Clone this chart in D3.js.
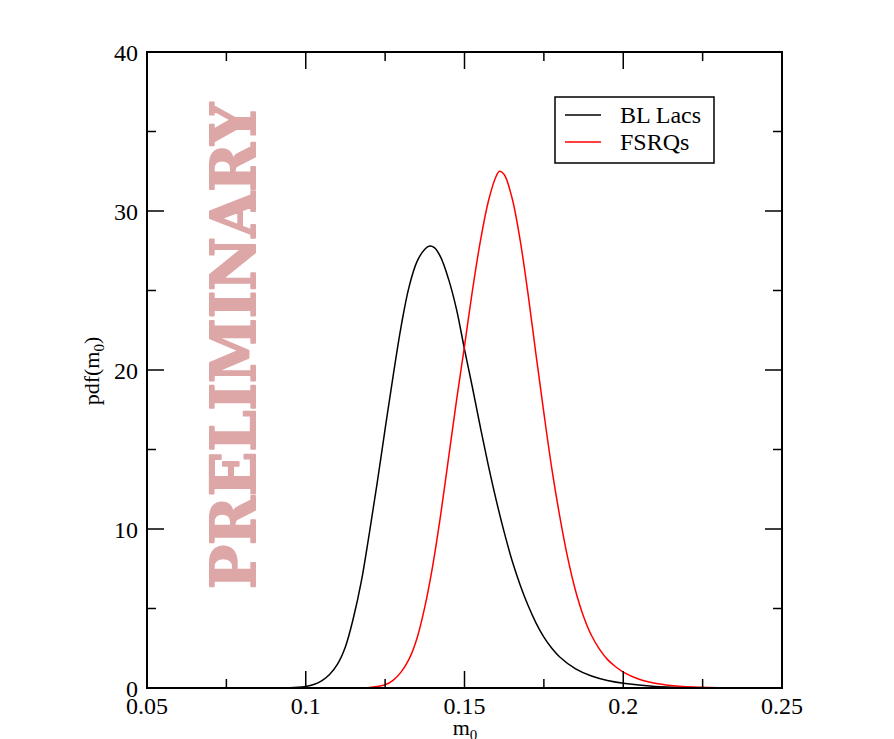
<!DOCTYPE html>
<html>
<head>
<meta charset="utf-8">
<script src="https://cdn.jsdelivr.net/npm/d3@7"></script>
<style>
  body { margin: 0; background: #fff; }
  text { font-family: "Liberation Serif", "Times New Roman", serif; }
</style>
</head>
<body>
<svg id="chart" width="894" height="739"></svg>
<script>
// values
var blM   = [0.05, 0.09, 0.095, 0.0975, 0.10, 0.1025, 0.105, 0.1075, 0.11, 0.1125, 0.115, 0.1175, 0.12, 0.1225, 0.125, 0.1275, 0.13, 0.1325, 0.135, 0.1375, 0.139, 0.1405, 0.1425, 0.145, 0.1475, 0.15, 0.1525, 0.155, 0.1575, 0.16, 0.1625, 0.165, 0.1675, 0.17, 0.1725, 0.175, 0.1775, 0.18, 0.185, 0.19, 0.195, 0.20, 0.21, 0.22, 0.23, 0.25];
var blPdf = [0, 0, 0.01, 0.04, 0.1, 0.22, 0.45, 0.85, 1.5, 2.6, 4.4, 6.7, 9.7, 12.9, 16.3, 19.6, 22.7, 25.2, 26.8, 27.6, 27.8, 27.7, 27.1, 25.7, 23.8, 21.3, 18.9, 16.4, 14.0, 11.8, 9.8, 8.0, 6.5, 5.2, 4.1, 3.2, 2.5, 1.95, 1.2, 0.75, 0.47, 0.3, 0.1, 0.03, 0.01, 0];

var fsM   = [0.05, 0.115, 0.12, 0.1225, 0.125, 0.1275, 0.13, 0.1325, 0.135, 0.1375, 0.14, 0.1425, 0.145, 0.1475, 0.15, 0.1525, 0.155, 0.1575, 0.16, 0.161, 0.1625, 0.165, 0.1675, 0.17, 0.1725, 0.175, 0.1775, 0.18, 0.1825, 0.185, 0.1875, 0.19, 0.1925, 0.195, 0.1975, 0.20, 0.205, 0.21, 0.215, 0.22, 0.23, 0.25];
var fsPdf = [0, 0, 0.03, 0.09, 0.2, 0.48, 1.0, 1.8, 3.1, 5.1, 7.7, 10.9, 14.5, 18.1, 21.5, 25.0, 28.1, 30.6, 32.2, 32.5, 32.3, 30.8, 28.2, 24.8, 21.0, 17.3, 13.8, 10.8, 8.2, 6.1, 4.5, 3.3, 2.45, 1.8, 1.35, 1.0, 0.55, 0.3, 0.16, 0.08, 0.02, 0];

var xTicks = [0.05, 0.1, 0.15, 0.2, 0.25];
var xTickLabels = ["0.05", "0.1", "0.15", "0.2", "0.25"];
var xMinor = [0.075, 0.125, 0.175, 0.225];
var yTicks = [0, 10, 20, 30, 40];
var yMinor = [5, 15, 25, 35];

var seriesNames = ["BL Lacs", "FSRQs"];
var seriesColors = ["#000000", "#ff0000"];

var svg = d3.select("#chart");
var pLeft = 147, pRight = 782, pTop = 52, pBottom = 688;

var x = d3.scaleLinear().domain([0.05, 0.25]).range([pLeft, pRight]);
var y = d3.scaleLinear().domain([0, 40]).range([pBottom, pTop]);

// watermark
svg.append("text")
  .attr("transform", "translate(255,346) rotate(-90)")
  .attr("text-anchor", "middle")
  .style("font-family", "'DejaVu Serif', serif")
  .attr("font-weight", "bold")
  .attr("font-size", 62)
  .attr("textLength", 486)
  .attr("lengthAdjust", "spacingAndGlyphs")
  .attr("fill", "#dea7a7")
  .attr("stroke", "#dea7a7")
  .attr("stroke-width", 2)
  .attr("stroke-linejoin", "round")
  .text("PRELIMINARY");

// curves
var line = d3.line().x(function(d){ return x(d[0]); }).y(function(d){ return y(d[1]); }).curve(d3.curveCatmullRom.alpha(0.5));
var allSeries = [d3.zip(blM, blPdf), d3.zip(fsM, fsPdf)];
allSeries.forEach(function(s, i){
  svg.append("path").datum(s)
    .attr("d", line)
    .attr("fill", "none")
    .attr("stroke", seriesColors[i])
    .attr("stroke-width", 1.5);
});

// frame
svg.append("rect")
  .attr("x", pLeft).attr("y", pTop)
  .attr("width", pRight - pLeft).attr("height", pBottom - pTop)
  .attr("fill", "none").attr("stroke", "#000").attr("stroke-width", 2);

var majorLen = 17, minorLen = 9;
function tickLines(vals, len, isX){
  vals.forEach(function(v){
    if (isX){
      svg.append("line").attr("x1", x(v)).attr("x2", x(v)).attr("y1", pBottom).attr("y2", pBottom - len).attr("stroke", "#000").attr("stroke-width", 1.5);
      svg.append("line").attr("x1", x(v)).attr("x2", x(v)).attr("y1", pTop).attr("y2", pTop + len).attr("stroke", "#000").attr("stroke-width", 1.5);
    } else {
      svg.append("line").attr("y1", y(v)).attr("y2", y(v)).attr("x1", pLeft).attr("x2", pLeft + len).attr("stroke", "#000").attr("stroke-width", 1.5);
      svg.append("line").attr("y1", y(v)).attr("y2", y(v)).attr("x1", pRight).attr("x2", pRight - len).attr("stroke", "#000").attr("stroke-width", 1.5);
    }
  });
}
tickLines(xTicks.slice(1, -1), majorLen, true);
tickLines(xMinor, minorLen, true);
tickLines(yTicks.slice(1, -1), majorLen, false);
tickLines(yMinor, minorLen, false);

// tick labels
svg.selectAll(".xl").data(xTicks).enter().append("text")
  .attr("x", function(d){ return x(d); })
  .attr("y", 714)
  .attr("text-anchor", "middle")
  .attr("font-size", 24)
  .text(function(d, i){ return xTickLabels[i]; });

svg.selectAll(".yl").data(yTicks).enter().append("text")
  .attr("x", 138)
  .attr("y", function(d){ return y(d) + 8.5; })
  .attr("text-anchor", "end")
  .attr("font-size", 24)
  .text(function(d){ return d; });

// axis titles
var yt = svg.append("text")
  .attr("transform", "translate(99,371) rotate(-90)")
  .attr("text-anchor", "middle")
  .attr("font-size", 22);
yt.append("tspan").text("pdf(m");
yt.append("tspan").attr("font-size", 15).attr("dy", 5).text("0");
yt.append("tspan").attr("dy", -5).text(")");

var xt = svg.append("text")
  .attr("x", 465).attr("y", 735)
  .attr("text-anchor", "middle")
  .attr("font-size", 22);
xt.append("tspan").text("m");
xt.append("tspan").attr("font-size", 15).attr("dy", 5).text("0");

// legend
svg.append("rect")
  .attr("x", 555).attr("y", 97).attr("width", 159).attr("height", 66)
  .attr("fill", "#fff").attr("stroke", "#000").attr("stroke-width", 1.5);
seriesNames.forEach(function(n, i){
  var ly = 123 + i * 27;
  svg.append("line").attr("x1", 565).attr("x2", 601).attr("y1", ly - 8).attr("y2", ly - 8)
    .attr("stroke", seriesColors[i]).attr("stroke-width", 1.5);
  svg.append("text").attr("x", 620).attr("y", ly).attr("font-size", 24).text(n);
});
</script>
</body>
</html>
